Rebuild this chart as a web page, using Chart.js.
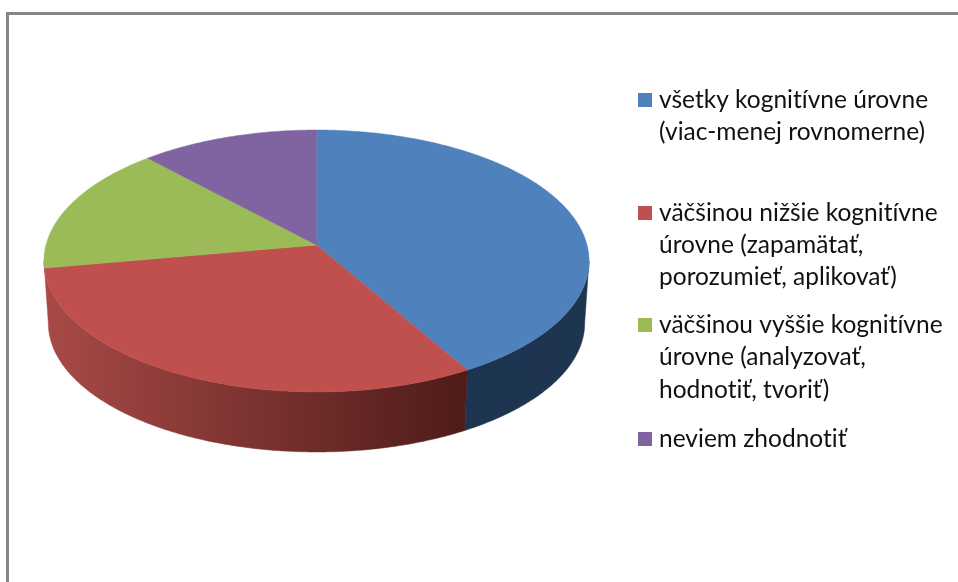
<!DOCTYPE html>
<html><head><meta charset="utf-8">
<style>html,body{margin:0;padding:0;background:#fff}#w{position:relative;width:958px;height:582px;overflow:hidden}canvas{display:block;filter:blur(0.45px)}</style>
<script src="https://cdn.jsdelivr.net/npm/chart.js@4/dist/chart.umd.min.js"></script>
</head><body><div id="w"><canvas id="c" width="958" height="582"></canvas></div>
<script>
const categories = [
  ["všetky kognitívne úrovne", "(viac-menej rovnomerne)"],
  ["väčšinou nižšie kognitívne", "úrovne (zapamätať,", "porozumieť, aplikovať)"],
  ["väčšinou vyššie kognitívne", "úrovne (analyzovať,", "hodnotiť, tvoriť)"],
  ["neviem zhodnotiť"]
];
const shares = [41.7, 30.5, 15.9, 11.9];
const topColors = ["#4f81bd", "#c0504d", "#9bbb59", "#8064a2"];

// perspective disc projection
const P = {cx:316.5, cy:245, A:270.5, B:129, k:0.122, drop:62.4, shrink:0.984};
const project = (a, bottom) => {
  const u = Math.cos(a), v = Math.sin(a), w = 1 - P.k * v, s = bottom ? P.shrink : 1;
  return [P.cx + s * P.A * u / w, P.cy + (bottom ? P.drop : 0) + s * P.B * v / w];
};
const silR = Math.asin(P.k), silL = Math.PI - silR;
const sideFill = (ctx, i) => {
  const g = ctx.createLinearGradient(44, 0, 589, 0);
  if (i === 0) { g.addColorStop(0, "#1c324f"); g.addColorStop(1, "#1e3552"); }
  else if (i === 1) { g.addColorStop(0, "#a84a47"); g.addColorStop(0.78, "#4d1b19"); g.addColorStop(1, "#4d1b19"); }
  else if (i === 2) { g.addColorStop(0, "#6f8a3e"); g.addColorStop(1, "#6f8a3e"); }
  else { g.addColorStop(0, "#5a4574"); g.addColorStop(1, "#5a4574"); }
  return g;
};
const legendPos = [{s:93,b:[108,140]},{s:206,b:[221,253,285]},{s:318,b:[333,365,398]},{s:432,b:[447]}];

const disc3d = {
  id:"disc3d",
  beforeDraw(chart){
    const ctx = chart.ctx;
    ctx.save();
    ctx.fillStyle = "#868686";
    ctx.fillRect(6, 12, 952, 3);
    ctx.fillRect(6, 12, 3, 570);
    ctx.restore();
  },
  beforeDatasetDraw(chart){
    const ctx = chart.ctx, arcs = chart.getDatasetMeta(0).data;
    const step = Math.PI / 360;
    ctx.save();
    // side walls
    arcs.forEach((el, i) => {
      const base = el.getProps(["startAngle","endAngle"], true);
      let s = Math.max(base.startAngle, silR), e = Math.min(base.endAngle, silL);
      if (silL - e < 0.09 && e > silR) e = silL;
      if (e - s <= 0 || s >= silL - 0.09) return;
      ctx.beginPath();
      for (let a = s; a < e; a += step) { const p = project(a,false); ctx.lineTo(p[0], p[1]); }
      let p = project(e,false); ctx.lineTo(p[0], p[1]);
      for (let a = e; a > s; a -= step) { p = project(a,true); ctx.lineTo(p[0], p[1]); }
      p = project(s,true); ctx.lineTo(p[0], p[1]);
      ctx.closePath();
      ctx.fillStyle = sideFill(ctx, i);
      ctx.strokeStyle = ctx.fillStyle; ctx.lineWidth = 0.5;
      ctx.fill(); ctx.stroke();
    });
    // top faces
    arcs.forEach((el, i) => {
      const base = el.getProps(["startAngle","endAngle"], true);
      ctx.beginPath();
      ctx.moveTo(P.cx, P.cy);
      for (let a = base.startAngle; a < base.endAngle; a += step) { const p = project(a,false); ctx.lineTo(p[0], p[1]); }
      const p = project(base.endAngle,false); ctx.lineTo(p[0], p[1]);
      ctx.closePath();
      ctx.fillStyle = el.options.backgroundColor;
      ctx.strokeStyle = ctx.fillStyle; ctx.lineWidth = 0.5;
      ctx.fill(); ctx.stroke();
    });
    ctx.restore();
    return false;
  },
  afterDraw(chart){
    const ctx = chart.ctx;
    ctx.save();
    ctx.font = "24.5px Lato";
    ctx.letterSpacing = "0.01px";
    ctx.textBaseline = "alphabetic";
    chart.data.labels.forEach((lines, i) => {
      const pos = legendPos[i];
      ctx.fillStyle = chart.data.datasets[0].backgroundColor[i];
      ctx.fillRect(638, pos.s, 14, 14);
      ctx.fillStyle = "#111";
      lines.forEach((t, j) => ctx.fillText(t, 659, pos.b[j]));
    });
    ctx.restore();
  }
};

new Chart(document.getElementById("c"), {
  type:"pie",
  data:{labels:categories, datasets:[{data:shares, backgroundColor:topColors, borderWidth:0}]},
  options:{responsive:false, animation:false, events:[],
    plugins:{legend:{display:false}, tooltip:{enabled:false}}},
  plugins:[disc3d]
});
</script></body></html>
